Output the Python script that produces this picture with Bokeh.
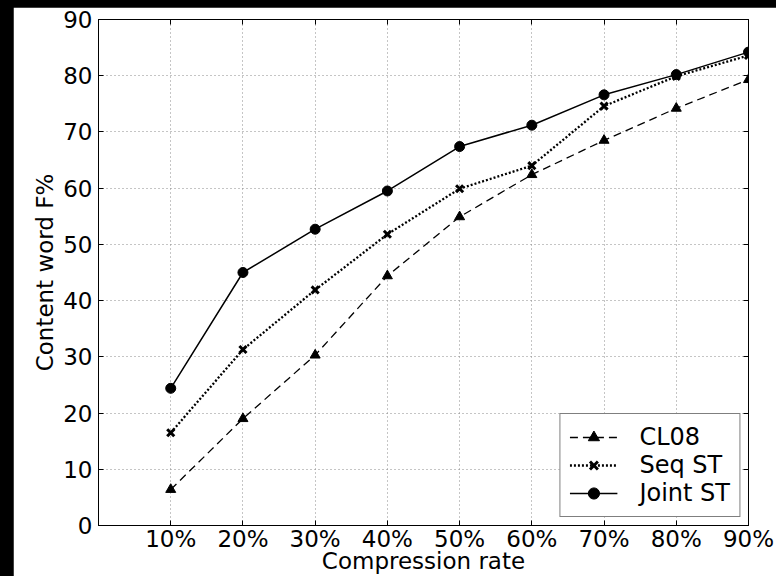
from bokeh.plotting import figure
from bokeh.models import Range1d, FixedTicker, LinearAxis, Legend, LegendItem, CustomJSTickFormatter
from bokeh.embed import file_html
from bokeh.resources import INLINE

rates = [10, 20, 30, 40, 50, 60, 70, 80, 90]
rate_labels = ["10%", "20%", "30%", "40%", "50%", "60%", "70%", "80%", "90%"]
y_ticks = [0, 10, 20, 30, 40, 50, 60, 70, 80, 90]

cl08 = [6.4, 19.0, 30.3, 44.4, 54.9, 62.4, 68.5, 74.2, 79.3]
seq_st = [16.5, 31.3, 41.9, 51.8, 59.9, 64.0, 74.6, 79.9, 83.6]
joint_st = [24.4, 45.0, 52.7, 59.5, 67.4, 71.2, 76.6, 80.2, 84.2]

FONT = "DejaVu Sans"
FS = "23px"

p = figure(width=768, height=569, output_backend="svg", toolbar_location=None,
           x_range=Range1d(0, 90), y_range=Range1d(0, 90),
           min_border_left=85, min_border_right=33, min_border_top=12, min_border_bottom=51,
           background_fill_color="white", border_fill_color="white")
p.outline_line_color = "black"
p.outline_line_width = 1

for ax in (p.xaxis[0], p.yaxis[0]):
    ax.major_label_text_font = FONT
    ax.major_label_text_font_size = FS
    ax.major_label_text_color = "black"
    ax.axis_label_text_font = FONT
    ax.axis_label_text_font_size = FS
    ax.axis_label_text_font_style = "normal"
    ax.axis_label_text_color = "black"
    ax.axis_line_color = "black"
    ax.major_tick_line_color = "black"
    ax.major_tick_in = 5
    ax.major_tick_out = 0
    ax.minor_tick_line_color = None

p.xaxis[0].ticker = FixedTicker(ticks=rates)
p.xaxis[0].major_label_overrides = {r: lab for r, lab in zip(rates, rate_labels)}
p.xaxis[0].axis_label = "Compression rate"
p.xaxis[0].major_label_standoff = 0
p.xaxis[0].axis_label_standoff = -7
p.yaxis[0].ticker = FixedTicker(ticks=y_ticks)
p.yaxis[0].axis_label = "Content word F%"
p.yaxis[0].major_label_standoff = 6
p.yaxis[0].axis_label_standoff = 2

blank = CustomJSTickFormatter(code="return ''")
top = LinearAxis(ticker=FixedTicker(ticks=rates), formatter=blank,
                 major_tick_in=5, major_tick_out=0, minor_tick_line_color=None,
                 axis_line_color="black", major_label_standoff=0)
right = LinearAxis(ticker=FixedTicker(ticks=y_ticks), formatter=blank,
                   major_tick_in=5, major_tick_out=0, minor_tick_line_color=None,
                   axis_line_color="black", major_label_standoff=0)
p.add_layout(top, "above")
p.add_layout(right, "right")

for g in (p.xgrid[0], p.ygrid[0]):
    g.grid_line_color = "#8a8a8a"
    g.grid_line_dash = "1 3"
    g.grid_line_width = 1

l1 = p.line(rates, cl08, line_color="black", line_width=1.3, line_dash="8 5")
m1 = p.scatter(rates, cl08, marker="triangle", size=10, fill_color="black", line_color="black")
l2 = p.line(rates, seq_st, line_color="black", line_width=2.3, line_dash="2 2")
m2 = p.scatter(rates, seq_st, marker="x", size=10, line_color="black", line_width=3)
l3 = p.line(rates, joint_st, line_color="black", line_width=1.5)
m3 = p.scatter(rates, joint_st, marker="circle", size=10, fill_color="black", line_color="black")

legend = Legend(items=[LegendItem(label="CL08", renderers=[l1, m1]),
                       LegendItem(label="Seq ST", renderers=[l2, m2]),
                       LegendItem(label="Joint ST", renderers=[l3, m3])],
                location="bottom_right")
legend.label_text_font = FONT
legend.label_text_font_size = "24px"
legend.label_text_color = "black"
legend.glyph_width = 48
legend.glyph_height = 28
legend.label_height = 28
legend.spacing = 0
legend.padding = 9
legend.margin = 8
legend.label_standoff = 22
legend.border_line_color = "black"
legend.border_line_width = 1
legend.background_fill_alpha = 1
p.add_layout(legend)

html = file_html(p, INLINE)
html = html.replace("</head>", "<style>html,body{background:#000;overflow:hidden;} body{margin:7px 0 0 13px;}</style></head>", 1)
open("out.html", "w").write(html)
